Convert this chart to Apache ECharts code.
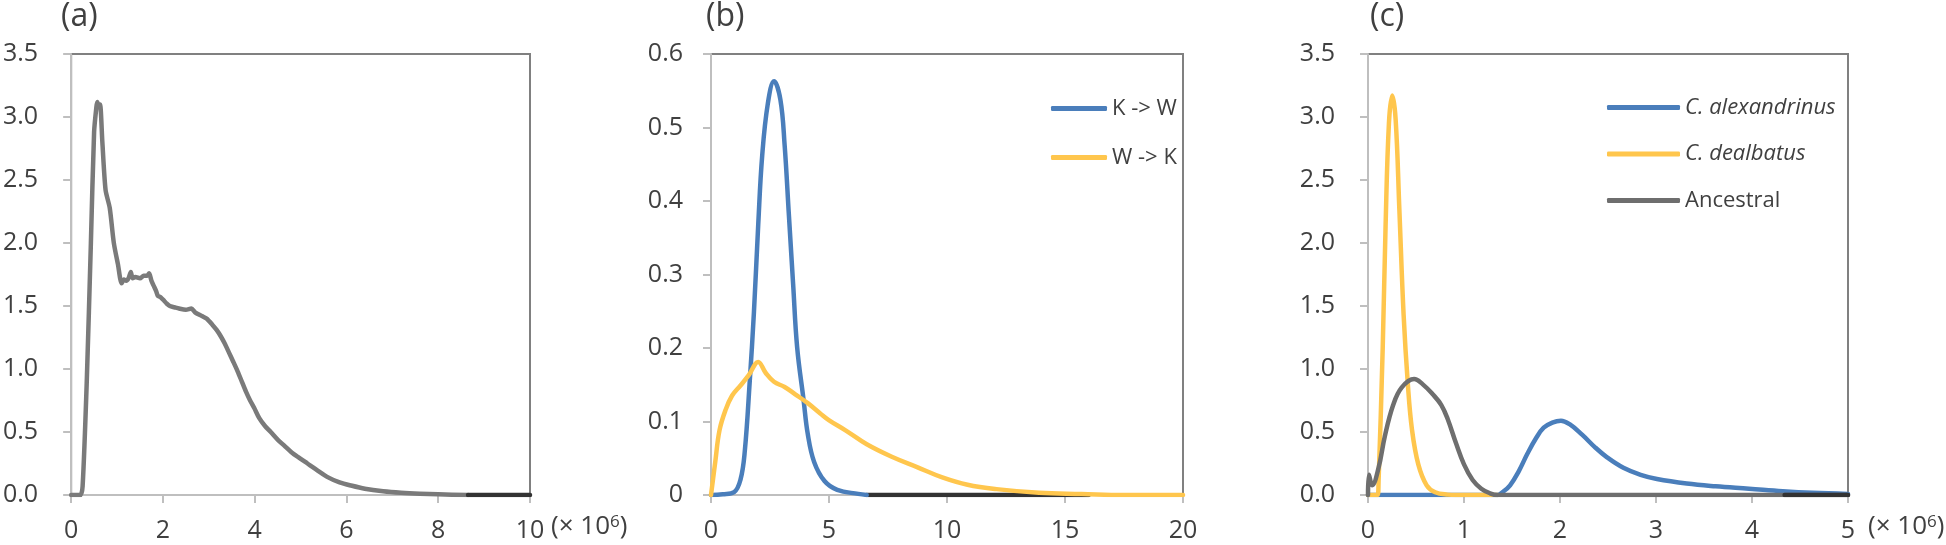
<!DOCTYPE html>
<html><head><meta charset="utf-8">
<script src="https://cdn.jsdelivr.net/npm/echarts@6/dist/echarts.min.js"></script>
<style>html,body{margin:0;padding:0;background:#fff}#c{width:1946px;height:545px}</style>
</head><body><div id="c"></div>
<script>
// ---------- data ----------
const panelLabels = ['(a)', '(b)', '(c)'];
const legendB = ['K -> W', 'W -> K'];
const legendC = ['C. alexandrinus', 'C. dealbatus', 'Ancestral'];

// panel (a): x in 10^6
const seriesA = [[0,0],[0.2,0],[0.25,0.07],[0.34,0.9],[0.43,2.0],[0.5,2.88],[0.55,3.08],[0.57,3.12],[0.6,3.08],[0.63,3.1],[0.68,2.8],
  [0.75,2.42],[0.84,2.28],[0.93,2.0],[1.02,1.83],[1.1,1.68],[1.15,1.71],[1.2,1.70],[1.25,1.72],[1.3,1.77],[1.34,1.72],[1.4,1.73],
  [1.5,1.72],[1.58,1.74],[1.66,1.74],[1.7,1.76],[1.75,1.70],[1.8,1.66],[1.85,1.62],[1.89,1.58],[1.95,1.57],[2.03,1.54],[2.08,1.52],
  [2.15,1.50],[2.25,1.49],[2.35,1.48],[2.5,1.47],[2.62,1.48],[2.7,1.45],[2.85,1.42],[2.95,1.40],[3.08,1.35],[3.17,1.31],[3.26,1.26],
  [3.35,1.2],[3.44,1.13],[3.53,1.06],[3.63,0.98],[3.72,0.9],[3.81,0.82],[3.9,0.75],[3.99,0.69],[4.1,0.61],[4.22,0.55],[4.35,0.5],
  [4.5,0.44],[4.65,0.39],[4.8,0.34],[4.95,0.3],[5.15,0.25],[5.35,0.2],[5.6,0.14],[5.85,0.1],[6.1,0.075],[6.4,0.05],[6.8,0.03],
  [7.19,0.018],[7.6,0.01],[8.0,0.005],[8.65,0]];
const tailA = [[8.65,0],[10,0]];

// panel (b)
const seriesKW = [[0,0],[0.5,0.001],[0.98,0.004],[1.25,0.021],[1.43,0.059],[1.64,0.154],[1.82,0.249],[2.0,0.367],[2.17,0.462],
  [2.41,0.533],[2.67,0.563],[2.94,0.538],[3.12,0.476],[3.3,0.381],[3.48,0.287],[3.65,0.201],[3.92,0.13],[4.1,0.083],[4.37,0.045],
  [4.81,0.019],[5.35,0.007],[6.24,0.0015],[6.6,0]];
const seriesWK = [[0,0],[0.18,0.045],[0.36,0.088],[0.62,0.116],[0.89,0.135],[1.25,0.149],[1.6,0.163],[2.0,0.181],[2.32,0.166],
  [2.67,0.154],[3.12,0.147],[3.57,0.137],[4.1,0.125],[4.63,0.111],[4.99,0.102],[5.7,0.088],[6.6,0.069],[7.66,0.052],[8.73,0.038],
  [9.8,0.024],[10.87,0.014],[12.1,0.008],[13.9,0.003],[15.7,0.0014],[17.5,0],[20,0]];
const tailB = [[6.6,0],[16,0]];

// panel (c): x in 10^6
const seriesAlex = [[0,0],[1.35,0],[1.4,0.022],[1.48,0.077],[1.57,0.188],[1.66,0.327],[1.75,0.45],[1.83,0.534],[1.92,0.575],
  [2.01,0.59],[2.1,0.562],[2.23,0.479],[2.36,0.382],[2.49,0.299],[2.66,0.216],[2.84,0.16],[3.01,0.127],[3.32,0.091],
  [3.62,0.069],[3.97,0.05],[4.32,0.03],[4.63,0.017],[5.0,0.008]];
const seriesDeal = [[0,0],[0.1,0],[0.11,0.105],[0.153,1.16],[0.183,2.13],[0.218,2.95],[0.253,3.17],[0.288,2.98],[0.327,2.26],
  [0.371,1.43],[0.415,0.88],[0.458,0.52],[0.524,0.243],[0.611,0.077],[0.7,0.022],[0.83,0.003],[0.92,0],[1.35,0]];
const seriesAnc = [[0,0],[0.01,0.16],[0.044,0.077],[0.11,0.216],[0.175,0.465],[0.262,0.714],[0.35,0.852],[0.48,0.92],[0.568,0.88],
  [0.677,0.797],[0.764,0.714],[0.83,0.603],[0.917,0.41],[1.0,0.243],[1.09,0.119],[1.18,0.05],[1.27,0.014],[1.35,0],[5,0]];
const tailC = [[4.34,0],[5,0]];

// axis ranges / ticks
const xAxisA = {min:0, max:10, interval:2};
const xAxisB = {min:0, max:20, interval:5};
const xAxisC = {min:0, max:5, interval:1};
const yAxisA = {min:0, max:3.5, interval:0.5};
const yAxisB = {min:0, max:0.6, interval:0.1};
const yAxisC = {min:0, max:3.5, interval:0.5};

// ---------- styling ----------
const FONT = "'Open Sans', 'Noto Sans', sans-serif";
const TXT = '#404040';
const AXIS = '#bfbfbf';
const BLUE = '#4a7ebb', YELLOW = '#ffc64d', GRAY = '#7a7a7a', DARKGRAY = '#6e6e6e', TAIL = '#333333';
const LW = 4.5;

const grids = [
  {left:68, top:54, width:462, height:441},
  {left:711, top:54, width:472, height:441},
  {left:1368, top:54, width:480, height:441}
].map(g => Object.assign(g, {show:true, borderColor:'#808080', borderWidth:2, backgroundColor:'#fff', containLabel:false}));

function xAx(i, r) {
  return Object.assign({type:'value', gridIndex:i,
    axisLine:{show:true, onZero:false, lineStyle:{color:AXIS, width:2}},
    axisTick:{show:true, inside:false, length:8, lineStyle:{color:AXIS, width:2}},
    axisLabel:{margin:23, fontSize:25, color:TXT, fontFamily:FONT},
    splitLine:{show:false}}, r);
}
function yAx(i, r, fmt, margin) {
  return Object.assign({type:'value', gridIndex:i,
    axisLine:{show:true, lineStyle:{color:AXIS, width:2}},
    axisTick:{show:true, inside:false, length:8, lineStyle:{color:AXIS, width:2}},
    axisLabel:{margin:margin, fontSize:25, color:TXT, fontFamily:FONT, formatter:fmt},
    splitLine:{show:false}}, r);
}
const f1 = v => v.toFixed(1);
const fB = v => v === 0 ? '0' : v.toFixed(1);

function line(name, data, idx, color, smooth, z) {
  return {name:name, type:'line', data:data, xAxisIndex:idx, yAxisIndex:idx, symbol:'none', showSymbol:false,
    smooth:smooth, lineStyle:{color:color, width:LW, cap:'round', join:'round'}, itemStyle:{color:color}, z:z||2, silent:true, animation:false};
}

const unitRich = {
  p:{fontSize:26, fontFamily:FONT, fill:TXT, color:TXT},
  s:{fontSize:17, fontFamily:FONT, fill:TXT, color:TXT, verticalAlign:'top', lineHeight:17}
};
const unitText = '{p|(× 10}{s|6}{p|)}';

const option = {
  animation:false,
  backgroundColor:'#fff',
  grid: grids,
  xAxis:[xAx(0, xAxisA), xAx(1, xAxisB), xAx(2, xAxisC)],
  yAxis:[yAx(0, yAxisA, f1, 33), yAx(1, yAxisB, fB, 28), yAx(2, yAxisC, f1, 33)],
  legend:[
    {data:legendB, orient:'vertical', left:1046, top:91, itemWidth:56, itemHeight:5, itemGap:24, icon:'roundRect',
     textStyle:{fontSize:22, color:TXT, fontFamily:FONT, lineHeight:25}, selectedMode:false},
    {data:legendC, orient:'vertical', left:1602, top:90, itemWidth:73, itemHeight:5, itemGap:21.5, icon:'roundRect',
     formatter: n => n.startsWith('C.') ? '{i|' + n + '}' : n,
     textStyle:{fontSize:22, color:TXT, fontFamily:FONT, lineHeight:25,
       rich:{i:{fontSize:22, fontStyle:'italic', color:TXT, fontFamily:FONT, lineHeight:25}}}, selectedMode:false}
  ],
  graphic:[
    {type:'text', left:61, top:1, style:{text:panelLabels[0], fontSize:32, fontFamily:FONT, fill:TXT}},
    {type:'text', left:706, top:1, style:{text:panelLabels[1], fontSize:32, fontFamily:FONT, fill:TXT}},
    {type:'text', left:1370, top:1, style:{text:panelLabels[2], fontSize:32, fontFamily:FONT, fill:TXT}},
    {type:'text', left:551, top:514, style:{text:unitText, rich:unitRich, fill:TXT}},
    {type:'text', left:1868, top:514, style:{text:unitText, rich:unitRich, fill:TXT}}
  ],
  series:[
    line('a', seriesA, 0, GRAY, 0.25, 3),
    line('a-tail', tailA, 0, TAIL, false, 4),
    line('b-tail', tailB, 1, TAIL, false, 2),
    line(legendB[0], seriesKW, 1, BLUE, 0.4, 3),
    line(legendB[1], seriesWK, 1, YELLOW, 0.4, 4),
    line(legendC[0], seriesAlex, 2, BLUE, 0.4, 3),
    line(legendC[1], seriesDeal, 2, YELLOW, 0.4, 4),
    line(legendC[2], seriesAnc, 2, DARKGRAY, 0.4, 5),
    line('c-tail', tailC, 2, TAIL, false, 6)
  ]
};
const chart = echarts.init(document.getElementById('c'), null, {renderer:'canvas'});
chart.setOption(option);
</script></body></html>
